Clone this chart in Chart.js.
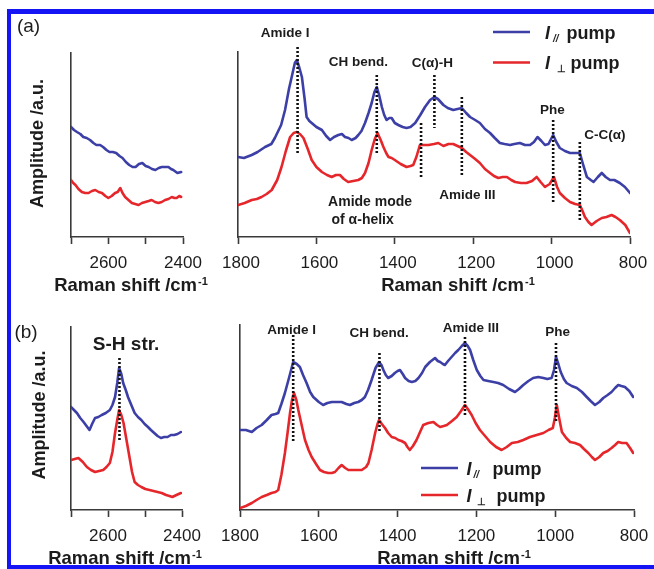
<!DOCTYPE html>
<html><head><meta charset="utf-8">
<script src="https://cdn.jsdelivr.net/npm/chart.js@4.4.1/dist/chart.umd.min.js"></script>
<style>
html,body{margin:0;padding:0;background:#fff;overflow:hidden;}
#wrap{position:relative;width:654px;height:569px;overflow:hidden;background:#fff;}
canvas{position:absolute;}
#frame{position:absolute;left:7px;top:9px;width:700px;height:560px;box-sizing:border-box;border-style:solid;border-color:#1414f5;border-width:5px 0 4px 4.5px;pointer-events:none;}
</style></head><body>
<div id="wrap">
<canvas id="aL" width="215" height="300" style="left:0px;top:0px"></canvas>
<canvas id="aR" width="454" height="300" style="left:200px;top:0px"></canvas>
<canvas id="bL" width="215" height="269" style="left:0px;top:300px"></canvas>
<canvas id="bR" width="454" height="269" style="left:200px;top:300px"></canvas>
<div id="frame"></div>
</div>
<script>
// ---------- data: [Raman shift (cm-1), amplitude (a.u.)] ----------
const A_LEFT_PAR = [[2700,110],[2692,107],[2684,105],[2675,103],[2667,100],[2658,99],[2649,97],[2640,94],[2632,92],[2622,92],[2614,90],[2605,87],[2597,85],[2588,85],[2579,84],[2570,81],[2562,79],[2553,75],[2544,72],[2535,70],[2527,70],[2518,73],[2509,74],[2500,71],[2492,70],[2483,68],[2474,67],[2465,69],[2457,70],[2448,70],[2439,70],[2432,68],[2426,67],[2415,64],[2405,65]];
const A_LEFT_PERP = [[2700,57],[2694,54],[2688,52],[2680,48],[2671,45],[2662,44],[2653,44],[2644,46],[2635,47],[2626,45],[2617,44],[2608,41],[2600,39],[2591,41],[2582,44],[2575,45],[2568,49],[2562,44],[2555,40],[2546,37],[2537,34],[2528,33],[2519,32],[2510,34],[2501,35],[2492,36],[2484,37],[2475,35],[2466,34],[2457,35],[2448,37],[2439,38],[2430,40],[2423,39],[2417,39],[2410,41],[2405,40]];
const A_RIGHT_PAR = [[1800,80],[1785,79],[1765,82],[1750,85],[1731,90],[1715,93],[1706,99],[1690,112],[1680,127],[1670,148],[1663,160],[1655,174],[1650,177],[1644,170],[1637,160],[1630,138],[1625,120],[1618,116],[1612,114],[1600,110],[1586,107],[1575,101],[1565,97],[1555,100],[1544,102],[1535,103],[1527,100],[1518,99],[1510,97],[1500,99],[1493,102],[1485,106],[1476,114],[1467,124],[1459,134],[1452,145],[1446,150],[1440,142],[1433,130],[1427,122],[1421,117],[1414,119],[1408,119],[1400,114],[1391,112],[1380,110],[1370,109],[1360,110],[1348,114],[1335,122],[1323,130],[1310,137],[1299,140],[1290,138],[1276,132],[1265,129],[1251,127],[1240,128],[1229,129],[1218,124],[1208,120],[1195,117],[1183,114],[1170,108],[1157,104],[1145,99],[1132,94],[1120,93],[1106,92],[1095,93],[1081,94],[1068,92],[1055,92],[1045,95],[1036,100],[1026,96],[1017,92],[1008,93],[996,102],[988,95],[979,89],[966,86],[953,84],[940,84],[928,84],[920,73],[910,60],[900,57],[893,55],[882,60],[872,64],[862,60],[851,57],[840,57],[826,54],[813,50],[800,44]];
const A_RIGHT_PERP = [[1800,32],[1783,34],[1765,37],[1752,38],[1740,40],[1727,43],[1714,47],[1700,57],[1689,70],[1678,86],[1667,100],[1658,104],[1650,105],[1642,103],[1633,99],[1622,88],[1612,77],[1600,70],[1586,65],[1573,62],[1561,60],[1550,62],[1540,62],[1530,58],[1519,55],[1506,56],[1493,57],[1484,59],[1476,64],[1467,74],[1459,87],[1451,98],[1444,104],[1436,97],[1429,90],[1422,84],[1416,80],[1408,79],[1400,77],[1385,73],[1370,70],[1360,71],[1353,72],[1345,80],[1336,92],[1325,92],[1314,92],[1300,93],[1289,94],[1276,91],[1263,93],[1251,93],[1240,91],[1229,89],[1218,85],[1208,82],[1195,78],[1183,74],[1170,68],[1157,64],[1147,61],[1136,59],[1125,60],[1114,60],[1103,57],[1093,55],[1078,54],[1064,54],[1050,56],[1038,60],[1028,55],[1017,50],[1005,53],[994,60],[986,50],[979,44],[966,39],[953,35],[940,33],[928,32],[921,26],[915,20],[906,15],[898,12],[885,16],[872,19],[860,20],[847,22],[837,20],[826,17],[812,12],[800,4]];
const B_LEFT_PAR = [[2700,103],[2692,100],[2684,97],[2675,92],[2666,88],[2658,84],[2650,80],[2643,86],[2635,92],[2626,93],[2617,95],[2606,97],[2595,100],[2588,105],[2581,113],[2575,127],[2570,142],[2564,136],[2559,127],[2552,120],[2546,113],[2537,105],[2528,97],[2519,93],[2510,90],[2501,86],[2492,83],[2484,80],[2475,77],[2466,74],[2457,72],[2448,73],[2439,73],[2430,75],[2421,75],[2412,76],[2403,78]];
const B_LEFT_PERP = [[2700,50],[2690,51],[2680,52],[2668,48],[2657,43],[2646,40],[2635,38],[2624,39],[2613,40],[2604,43],[2595,47],[2588,58],[2581,77],[2575,90],[2570,100],[2564,95],[2558,87],[2550,70],[2542,53],[2535,38],[2528,28],[2519,25],[2510,23],[2499,21],[2488,20],[2477,19],[2466,18],[2455,17],[2443,15],[2434,14],[2426,13],[2415,15],[2403,17]];
const B_RIGHT_PAR = [[1800,80],[1785,80],[1770,78],[1758,82],[1745,85],[1732,90],[1720,95],[1710,96],[1703,97],[1695,106],[1686,117],[1675,133],[1665,148],[1656,146],[1648,143],[1640,135],[1631,127],[1622,118],[1614,113],[1600,108],[1589,105],[1578,107],[1567,108],[1555,108],[1542,108],[1530,106],[1521,105],[1510,107],[1500,108],[1491,110],[1483,113],[1475,120],[1466,130],[1456,142],[1447,148],[1441,145],[1436,140],[1430,135],[1424,132],[1415,134],[1407,137],[1400,139],[1394,140],[1387,136],[1381,132],[1372,129],[1364,128],[1355,129],[1347,132],[1338,137],[1330,143],[1318,148],[1305,152],[1298,149],[1292,148],[1285,146],[1280,145],[1272,149],[1263,153],[1254,157],[1246,160],[1237,164],[1229,167],[1222,164],[1216,160],[1208,150],[1199,140],[1190,134],[1182,130],[1170,129],[1157,128],[1145,127],[1132,125],[1117,121],[1102,118],[1092,121],[1081,125],[1068,129],[1056,132],[1043,133],[1030,132],[1020,131],[1009,132],[1003,140],[998,153],[992,146],[986,138],[978,131],[971,127],[958,124],[945,122],[932,118],[920,113],[910,109],[899,105],[888,108],[878,112],[867,115],[857,118],[848,122],[840,125],[832,124],[823,123],[812,119],[802,113]];
const B_RIGHT_PERP = [[1800,2],[1785,4],[1770,7],[1758,10],[1745,13],[1732,15],[1720,17],[1710,18],[1703,20],[1695,35],[1686,57],[1679,78],[1673,97],[1668,110],[1663,117],[1657,110],[1652,100],[1643,84],[1635,70],[1626,60],[1618,53],[1607,46],[1597,40],[1587,38],[1576,37],[1567,37],[1559,38],[1550,42],[1542,45],[1533,42],[1525,40],[1510,40],[1491,40],[1480,43],[1474,47],[1466,60],[1457,77],[1451,86],[1447,90],[1440,86],[1432,82],[1424,77],[1415,73],[1406,72],[1398,70],[1390,69],[1381,67],[1375,63],[1369,60],[1361,64],[1352,70],[1343,78],[1335,85],[1322,87],[1309,88],[1300,85],[1292,83],[1283,84],[1275,85],[1262,89],[1250,93],[1239,99],[1229,105],[1220,100],[1212,95],[1202,87],[1191,80],[1178,74],[1165,68],[1150,63],[1136,60],[1123,63],[1110,67],[1095,68],[1081,70],[1064,73],[1047,75],[1030,77],[1017,80],[1006,82],[1001,92],[996,105],[990,92],[983,78],[972,72],[962,68],[950,67],[937,65],[927,61],[916,57],[907,53],[899,50],[888,53],[878,57],[867,59],[857,62],[848,65],[840,68],[830,67],[819,67],[810,62],[802,57]];

// peak marker lines: [Raman shift, upper amplitude, lower amplitude]
const PEAKS_A_RIGHT = [[1648,190,84],[1446,162,82],[1333,114,59],[1299,162,109],[1229,140,60],[996,117,35],[928,95,15]];
const PEAKS_B_RIGHT = [[1665,175,68],[1446,157,77],[1229,173,93],[998,167,87]];
const PEAKS_B_LEFT = [[2569,152,70]];

// tick values and labels
const TICKS_HIGH = [2400,2500,2600,2700];
const LABELS_HIGH = [2600,2400];
const TICKS_LOW = [800,1000,1200,1400,1600,1800];
const LABELS_LOW = [800,1000,1200,1400,1600,1800];

// ---------- styling / drawing ----------
const FONT = '"Liberation Sans", Arial, Helvetica, sans-serif';
const BLUE = '#3c3fa6', RED = '#e5262b', INK = '#1c1c1c', AXIS = '#3a3a3a';

function drawXTitle(ctx, cx, cy) {
  const main = 'Raman shift /cm', sup = '-1';
  ctx.font = 'bold 18.5px ' + FONT; const w1 = ctx.measureText(main).width;
  ctx.font = 'bold 11px ' + FONT; const w2 = ctx.measureText(sup).width;
  const x = cx - (w1 + w2 + 1) / 2, base = cy + 6.6;
  ctx.textAlign = 'left'; ctx.textBaseline = 'alphabetic'; ctx.fillStyle = INK;
  ctx.font = 'bold 18.5px ' + FONT; ctx.fillText(main, x, base);
  ctx.font = 'bold 11px ' + FONT; ctx.fillText(sup, x + w1 + 1, base - 5.5);
}
function drawLegend(ctx, L) {
  const rows = [{c: BLUE, sub: '//', subFont: 'italic bold 10px ', so: L.subOff[0], po: L.pumpOff[0], y: L.ys[0]},
                {c: RED, sub: '\u22A5', subFont: 'bold 10px ', so: L.subOff[1], po: L.pumpOff[1], y: L.ys[1]}];
  rows.forEach(r => {
    ctx.strokeStyle = r.c; ctx.lineWidth = 2.6; ctx.lineCap = 'butt';
    ctx.beginPath(); ctx.moveTo(L.x0, r.y); ctx.lineTo(L.x1, r.y); ctx.stroke();
    const base = r.y + 6.5;
    ctx.fillStyle = INK; ctx.textAlign = 'left'; ctx.textBaseline = 'alphabetic';
    ctx.font = 'italic bold 18px ' + FONT; ctx.fillText('I', L.tx, base);
    ctx.font = r.subFont + FONT; ctx.fillText(r.sub, L.tx + r.so, base + 3);
    ctx.font = 'bold 18px ' + FONT; ctx.fillText('pump', L.tx + r.po, base);
  });
}
function makeOverlay(c) {
  return {
    id: 'overlay_' + c.id,
    afterDraw(chart) {
      const ctx = chart.ctx, xs = chart.scales.x, ys = chart.scales.y;
      ctx.save();
      ctx.fillStyle = INK; ctx.textAlign = 'center'; ctx.textBaseline = 'middle';
      (c.annots || []).forEach(a => {
        ctx.font = (a.font || 'bold 13.5px ') + FONT;
        ctx.fillText(a.t, xs.getPixelForValue(a.x), ys.getPixelForValue(a.y));
      });
      drawXTitle(ctx, c.xTitle[0], c.xTitle[1]);
      if (c.yTitle) {
        ctx.save(); ctx.translate(c.yTitle[0], c.yTitle[1]); ctx.rotate(-Math.PI / 2);
        ctx.font = 'bold 18px ' + FONT; ctx.textAlign = 'center'; ctx.textBaseline = 'middle'; ctx.fillStyle = INK;
        ctx.fillText('Amplitude /a.u.', 0, 0); ctx.restore();
      }
      if (c.letter) {
        ctx.font = '19px ' + FONT; ctx.textAlign = 'center'; ctx.textBaseline = 'middle'; ctx.fillStyle = INK;
        ctx.fillText(c.letter[0], c.letter[1], c.letter[2]);
      }
      if (c.legend) drawLegend(ctx, c.legend);
      ctx.restore();
    }
  };
}
function makeChart(c) {
  const ds = [];
  c.peaks.forEach(p => ds.push({data: [{x: p[0], y: p[1]}, {x: p[0], y: p[2]}], borderColor: '#111', borderWidth: 2.6,
    borderDash: [2, 2], borderCapStyle: 'butt', pointRadius: 0, showLine: true, clip: false, order: 0}));
  c.series.forEach(s => ds.push({data: s.data.map(d => ({x: d[0], y: d[1]})), borderColor: s.color, borderWidth: 2.6,
    pointRadius: 0, showLine: true, tension: 0, borderJoinStyle: 'round', borderCapStyle: 'round', order: 1}));
  return new Chart(document.getElementById(c.id), {
    type: 'scatter',
    data: {datasets: ds},
    options: {
      responsive: false, animation: false, devicePixelRatio: 1, events: [],
      layout: {padding: c.pad},
      plugins: {legend: {display: false}, tooltip: {enabled: false}},
      scales: {
        x: {type: 'linear', min: c.xmin, max: c.xmax, reverse: true,
            afterBuildTicks: s => { s.ticks = c.ticks.map(v => ({value: v})); },
            afterFit: s => { s.height = 50; },
            ticks: {autoSkip: false, maxRotation: 0, padding: c.tickPad, labelOffset: c.labelOffset || 0, color: INK, font: {family: FONT, size: 17},
                    callback: v => c.labels.includes(v) ? String(v) : ''},
            grid: {display: true, drawOnChartArea: false, drawTicks: true, tickLength: 7, tickWidth: 1.6, tickColor: AXIS},
            border: {display: true, color: AXIS, width: 1.6}},
        y: {type: 'linear', min: 0, max: c.ymax, afterFit: s => { s.width = 0; },
            ticks: {display: false}, grid: {display: false}, border: {display: true, color: AXIS, width: 1.6}}
      }
    },
    plugins: [makeOverlay(c)]
  });
}

makeChart({id: 'aL', xmin: 2400, xmax: 2700, ymax: 184, ticks: TICKS_HIGH, labels: LABELS_HIGH, tickPad: 9.6,
  pad: {left: 71, right: 32, top: 53, bottom: 13},
  series: [{data: A_LEFT_PAR, color: BLUE}, {data: A_LEFT_PERP, color: RED}], peaks: [],
  xTitle: [131, 284], yTitle: [38, 143.5], letter: ['(a)', 28.5, 27]});

makeChart({id: 'aR', xmin: 800, xmax: 1800, ymax: 185, ticks: TICKS_LOW, labels: LABELS_LOW, tickPad: 9.6, labelOffset: 3,
  pad: {left: 38, right: 24, top: 52, bottom: 13},
  series: [{data: A_RIGHT_PAR, color: BLUE}, {data: A_RIGHT_PERP, color: RED}], peaks: PEAKS_A_RIGHT,
  annots: [{t: 'Amide I', x: 1680, y: 204}, {t: 'CH bend.', x: 1493, y: 175}, {t: 'C(\u03B1)-H', x: 1304, y: 174},
           {t: 'Amide mode', x: 1463, y: 35, font: 'bold 14px '}, {t: 'of \u03B1-helix', x: 1482, y: 17, font: 'bold 14px '},
           {t: 'Amide III', x: 1215, y: 42}, {t: 'Phe', x: 998, y: 127}, {t: 'C-C(\u03B1)', x: 864, y: 102}],
  xTitle: [258, 284],
  legend: {x0: 293, x1: 330, tx: 345, ys: [32, 62.5], subOff: [8, 12], pumpOff: [21.5, 25.5]}});

makeChart({id: 'bL', xmin: 2400, xmax: 2700, ymax: 183, ticks: TICKS_HIGH, labels: LABELS_HIGH, tickPad: 9,
  pad: {left: 71, right: 33, top: 27, bottom: 9},
  series: [{data: B_LEFT_PAR, color: BLUE}, {data: B_LEFT_PERP, color: RED}], peaks: PEAKS_B_LEFT,
  annots: [{t: 'S-H str.', x: 2551, y: 165, font: 'bold 19px '}],
  xTitle: [125, 257], yTitle: [40, 115], letter: ['(b)', 26, 32.5]});

makeChart({id: 'bR', xmin: 800, xmax: 1800, ymax: 185, ticks: TICKS_LOW, labels: LABELS_LOW, tickPad: 9,
  pad: {left: 40, right: 20, top: 25, bottom: 9},
  series: [{data: B_RIGHT_PAR, color: BLUE}, {data: B_RIGHT_PERP, color: RED}], peaks: PEAKS_B_RIGHT,
  annots: [{t: 'Amide I', x: 1669, y: 180}, {t: 'CH bend.', x: 1447, y: 177}, {t: 'Amide III', x: 1214, y: 182}, {t: 'Phe', x: 994, y: 178}],
  xTitle: [254, 257],
  legend: {x0: 221, x1: 258, tx: 266.5, ys: [168, 195], subOff: [7, 10], pumpOff: [26, 30]}});
</script>
</body></html>
